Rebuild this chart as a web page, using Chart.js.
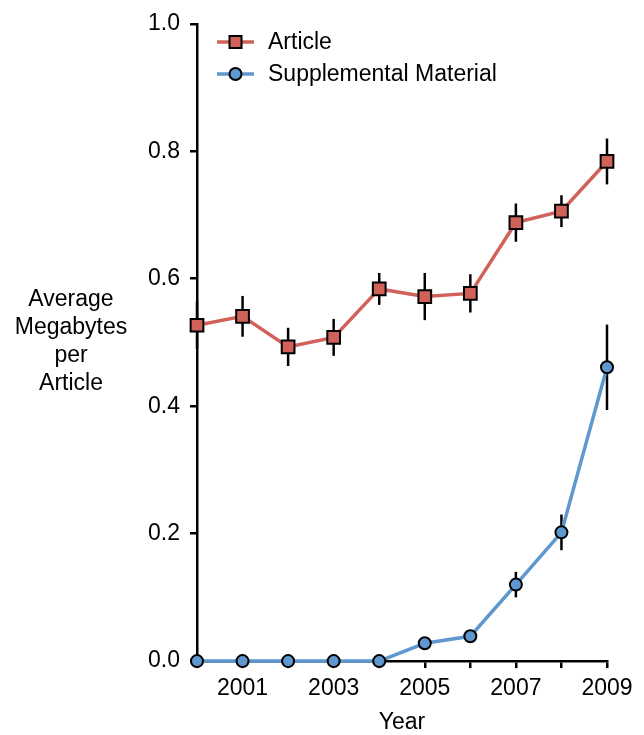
<!DOCTYPE html>
<html>
<head>
<meta charset="utf-8">
<script src="https://cdn.jsdelivr.net/npm/chart.js@4"></script>
<style>
  body { margin: 0; background: #fff; }
  #wrap { position: relative; width: 644px; height: 735px; }
  #ytitle {
    position: absolute; left: 0; width: 142px; top: 284px;
    font: 23px "Liberation Sans", Arial, sans-serif; line-height: 28px;
    text-align: center; color: #000;
  }
</style>
</head>
<body>
<div id="wrap">
  <canvas id="chart" width="644" height="735"></canvas>
  <div id="ytitle">Average<br>Megabytes<br>per<br>Article</div>
</div>
<script>
const years = [2000, 2001, 2002, 2003, 2004, 2005, 2006, 2007, 2008, 2009]
const article = [0.527, 0.541, 0.493, 0.508, 0.584, 0.572, 0.577, 0.688, 0.706, 0.784]
const articleErr = [0.037, 0.032, 0.030, 0.029, 0.025, 0.037, 0.030, 0.030, 0.025, 0.036]
const supplemental = [0, 0, 0, 0, 0, 0.028, 0.039, 0.120, 0.202, 0.461]
const supplementalErr = [0, 0, 0, 0, 0, 0, 0.010, 0.020, 0.028, 0.067]
const yTicks = [0.0, 0.2, 0.4, 0.6, 0.8, 1.0]
const xLabels = [2001, 2003, 2005, 2007, 2009]

const red = "#d0625a"
const blue = "#5f97cf"
const font = { family: '"Liberation Sans", Arial, sans-serif', size: 23 }

// error bars, drawn under the markers
const errorBars = {
  id: "errorBars",
  beforeDatasetsDraw(chart) {
    const ctx = chart.ctx
    const xs = chart.scales.x, ys = chart.scales.y
    const sets = [[article, articleErr], [supplemental, supplementalErr]]
    ctx.save()
    ctx.strokeStyle = "#000"
    ctx.lineWidth = 2.5
    sets.forEach(([vals, errs]) => {
      vals.forEach((v, i) => {
        if (!errs[i]) return
        const px = xs.getPixelForValue(years[i])
        ctx.beginPath()
        ctx.moveTo(px, ys.getPixelForValue(v + errs[i]))
        ctx.lineTo(px, ys.getPixelForValue(v - errs[i]))
        ctx.stroke()
      })
    })
    ctx.restore()
  }
}

// legend: line + marker + text
const lineLegend = {
  id: "lineLegend",
  afterDraw(chart) {
    const ctx = chart.ctx
    const items = [
      { text: "Article", color: red, style: "rect", y: 42 },
      { text: "Supplemental Material", color: blue, style: "circle", y: 74 }
    ]
    ctx.save()
    items.forEach(it => {
      ctx.strokeStyle = it.color
      ctx.lineWidth = 3.5
      ctx.beginPath()
      ctx.moveTo(217, it.y)
      ctx.lineTo(254, it.y)
      ctx.stroke()
      ctx.fillStyle = it.color
      ctx.strokeStyle = "#000"
      ctx.lineWidth = 2
      ctx.beginPath()
      if (it.style == "rect") ctx.rect(229.5, it.y - 6, 12, 12)
      else ctx.arc(235.5, it.y, 6, 0, Math.PI * 2)
      ctx.fill()
      ctx.stroke()
      ctx.fillStyle = "#000"
      ctx.font = '23px "Liberation Sans", Arial, sans-serif'
      ctx.textBaseline = "middle"
      ctx.fillText(it.text, 268, it.y + 1)
    })
    ctx.restore()
  }
}

new Chart(document.getElementById("chart"), {
  type: "line",
  data: {
    datasets: [
      {
        label: "Article",
        data: years.map((y, i) => ({ x: y, y: article[i] })),
        borderColor: red, backgroundColor: red,
        borderWidth: 3.5,
        pointStyle: "rect", pointRadius: 9, pointBorderWidth: 2,
        pointBorderColor: "#000", pointBackgroundColor: red
      },
      {
        label: "Supplemental Material",
        data: years.map((y, i) => ({ x: y, y: supplemental[i] })),
        borderColor: blue, backgroundColor: blue,
        borderWidth: 3.5,
        pointStyle: "circle", pointRadius: 6, pointBorderWidth: 2,
        pointBorderColor: "#000", pointBackgroundColor: blue
      }
    ]
  },
  options: {
    responsive: false,
    animation: false,
    clip: false,
    layout: { padding: { left: 0, right: 37, top: 21, bottom: 0 } },
    plugins: { legend: { display: false }, tooltip: { enabled: false } },
    scales: {
      x: {
        type: "linear", min: 2000, max: 2009,
        border: { color: "#000", width: 2.5 },
        grid: { drawOnChartArea: false, drawTicks: true, tickLength: 7, color: "#000", lineWidth: 2.5 },
        afterBuildTicks: s => { s.ticks = years.map(v => ({ value: v })) },
        ticks: {
          autoSkip: false, maxRotation: 0, color: "#000", font, padding: 7,
          callback: v => xLabels.includes(v) ? String(v) : ""
        },
        title: {
          display: true, text: "Year", color: "#000",
          font: { ...font, lineHeight: 1.1 }, padding: { top: 0, bottom: 0 }
        }
      },
      y: {
        min: 0, max: 1,
        border: { color: "#000", width: 2.5 },
        grid: { drawOnChartArea: false, drawTicks: true, tickLength: 7, color: "#000", lineWidth: 2.5 },
        afterBuildTicks: s => { s.ticks = yTicks.map(v => ({ value: v })) },
        afterFit: s => { s.width = 197 },
        ticks: { color: "#000", font, padding: 10, callback: v => v.toFixed(1) }
      }
    }
  },
  plugins: [errorBars, lineLegend]
})
</script>
</body>
</html>
